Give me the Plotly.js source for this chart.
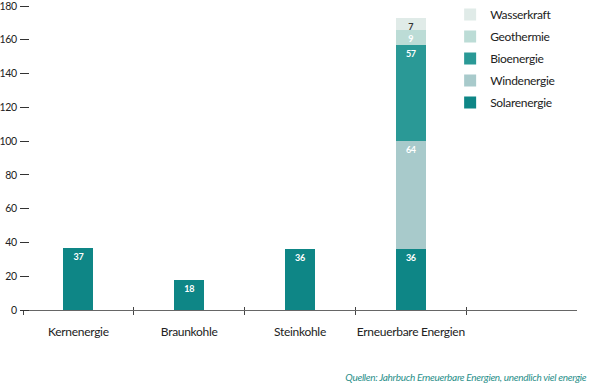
<!DOCTYPE html>
<html><head><meta charset="utf-8">
<script src="https://cdn.plot.ly/plotly-3.0.1.min.js"></script>
<style>html,body{margin:0;padding:0;background:#fff;}#chart{width:600px;height:383px;}
#chart text{letter-spacing:-0.3px;}</style>
</head><body><div id="chart"></div>
<script>
// Data
const categories = ["Kernenergie", "Braunkohle", "Steinkohle", "Erneuerbare Energien"];
const conventionalValues = [37, 18, 36, null];
const solarValues = [null, null, null, 36];
const windValues = [null, null, null, 64];
const bioValues = [null, null, null, 57];
const geoValues = [null, null, null, 9];
const wasserValues = [null, null, null, 7];
const yTickVals = [0, 20, 40, 60, 80, 100, 120, 140, 160, 180];
const sourceText = "Quellen: Jahrbuch Erneuerbare Energien, unendlich viel energie";

const FONT = "Lato, Roboto, sans-serif";
const barWidth = 0.27;

function lbl(vals){ return vals.map(v => v == null ? "" : "<b>" + v + "</b>"); }

function barTrace(name, vals, color, textColor, showlegend, rank){
  return {
    type: "bar", name: name, x: categories, y: vals,
    marker: {color: color},
    width: barWidth,
    text: lbl(vals), textposition: "inside", insidetextanchor: "end",
    textangle: 0,
    textfont: {family: FONT, size: 9, color: textColor},
    constraintext: "none",
    showlegend: showlegend,
    legendgroup: name,
    legendrank: rank,
    hoverinfo: "x+y+name"
  };
}

const traces = [
  barTrace("Konventionell", conventionalValues, "#0e8686", "#ffffff", false, 10),
  barTrace("Solarenergie", solarValues, "#0e8686", "#ffffff", true, 5),
  barTrace("Windenergie", windValues, "#a8cacb", "#ffffff", true, 4),
  barTrace("Bioenergie", bioValues, "#2a9996", "#ffffff", true, 3),
  barTrace("Geothermie", geoValues, "#bcdcd6", "#ffffff", true, 2),
  barTrace("Wasserkraft", wasserValues, "#e0ebe8", "#333333", true, 1),
  {type: "scatter", mode: "markers", x: categories, y: categories.map(() => 0),
   xaxis: "x2", yaxis: "y", marker: {opacity: 0, size: 1}, showlegend: false, hoverinfo: "skip"}
];

const layout = {
  width: 600, height: 383,
  margin: {l: 23, r: 23, t: 6, b: 73, autoexpand: false},
  paper_bgcolor: "#ffffff", plot_bgcolor: "#ffffff",
  barmode: "stack",
  font: {family: FONT, size: 12, color: "#222222"},
  showlegend: true,
  legend: {
    x: 0.771, xanchor: "left", y: 1.0197, yanchor: "top",
    traceorder: "grouped", tracegroupgap: 3,
    font: {family: FONT, size: 12, color: "#222222"},
    bgcolor: "rgba(0,0,0,0)", itemwidth: 30
  },
  xaxis: {
    type: "category", range: [-0.5, 4.5], tickson: "boundaries", tickangle: 0,
    ticks: "outside", ticklen: 4, tickwidth: 1, tickcolor: "#444444",
    showline: true, linecolor: "#666666", linewidth: 1,
    showgrid: false, zeroline: false,
    tickfont: {family: FONT, size: 12, color: "#222222"},
    ticklabelstandoff: 11
  },
  xaxis2: {
    type: "category", overlaying: "x", anchor: "y",
    range: [-0.5, 4.5], tickson: "boundaries", tickangle: 0,
    ticks: "inside", ticklen: 3, tickwidth: 1, tickcolor: "#444444",
    showticklabels: false, showline: false, showgrid: false, zeroline: false
  },
  yaxis: {
    range: [0, 180], tickvals: yTickVals,
    anchor: "free", position: 0.0108,
    ticks: "outside", ticklen: 9, tickwidth: 1, tickcolor: "#333333",
    showline: false, showgrid: false, zeroline: false,
    tickfont: {family: FONT, size: 10.5, color: "#222222"},
    ticklabelstandoff: 1, ticklabeloverflow: "allow"
  },
  annotations: [{
    text: "<i>" + sourceText + "</i>", xref: "paper", yref: "paper",
    x: 1.038, xanchor: "right", y: -0.2204, yanchor: "middle",
    showarrow: false, font: {family: FONT, size: 10, color: "#2a8f8a"}
  }]
};

Plotly.newPlot("chart", traces, layout, {displayModeBar: false, staticPlot: true});
</script></body></html>
